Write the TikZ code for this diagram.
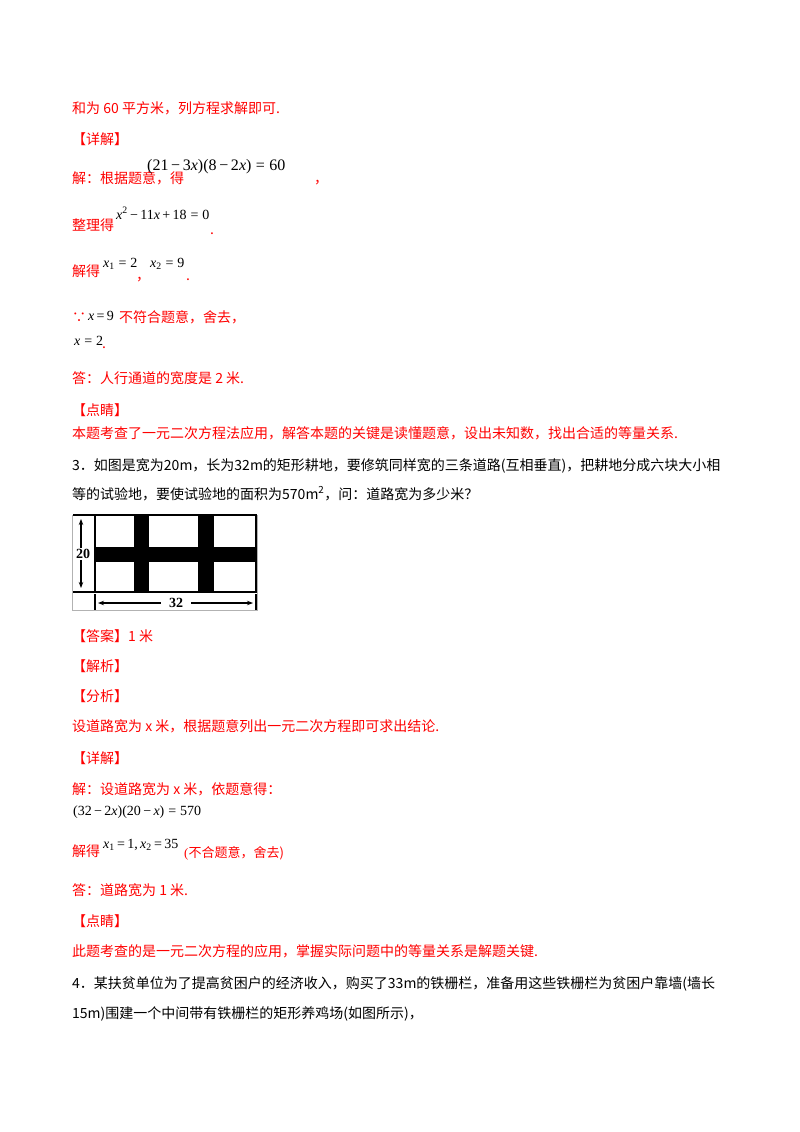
\documentclass[tikz,border=0pt]{standalone}
\usepackage{fontspec}
\setmainfont{Liberation Serif}
\newfontfamily\cjk{Noto Sans CJK SC}
\usetikzlibrary{arrows.meta}
\newcommand{\vx}{\textit{x}}
\newcommand{\mm}{\,−\,}
\newcommand{\pp}{\,+\,}
\newcommand{\ee}{\;=\;}
\newcommand{\es}{\,=\,}
\begin{document}
\begin{tikzpicture}[x=1pt,y=-1pt,
  t/.style={anchor=base west,inner sep=0pt,font=\cjk\fontsize{14}{16}\selectfont},
  rt/.style={t,text=red},
  m/.style={anchor=base west,inner sep=0pt,font=\fontsize{16}{18}\selectfont},
  ms/.style={anchor=base west,inner sep=0pt,font=\fontsize{14}{16}\selectfont}]
\useasboundingbox[fill=white] (0,0) rectangle (800,1132);
\node[rt] (l1) at (72,113) {和为 60 平方米，列方程求解即可.};
\node[rt] (l2) at (72,144) {【详解】};
\node[rt] (l3) at (72,183) {解：根据题意，得};
\node[m] (l3m) at (147,170) {(21\mm 3\vx)(8\mm 2\vx)\ee 60};
\node[rt] (l3c) at (314,183) {，};
\node[rt] (l4) at (72,230) {整理得};
\node[ms] (l4m) at (116,219) {\vx\textsuperscript{2}\mm 11\vx\pp 18\ee 0};
\node[rt] (l4c) at (210,234) {.};
\node[rt] (l5) at (72,276) {解得};
\node[ms] (l5a) at (103,267) {\vx\textsubscript{1}\ee 2};
\node[rt] (l5c) at (136,280) {，};
\node[ms] (l5b) at (150,267) {\vx\textsubscript{2}\ee 9};
\node[rt] (l5d) at (186,280) {.};
\node[rt] (l6) at (72,322) {∵};
\node[ms] (l6m) at (88,320) {\vx\es 9};
\node[rt] (l6t) at (119,322) {不符合题意，舍去，};
\node[ms] (l7) at (74,345) {\vx\ee 2};
\node[rt] (l7d) at (102,348) {.};
\node[rt] (l8) at (72,383) {答：人行通道的宽度是 2 米.};
\node[rt] (l9) at (72,415) {【点睛】};
\node[rt] (l10) at (72,438) {本题考查了一元二次方程法应用，解答本题的关键是读懂题意，设出未知数，找出合适的等量关系.};
\node[t] (q1) at (72,470) {3．如图是宽为20m，长为32m的矩形耕地，要修筑同样宽的三条道路(互相垂直)，把耕地分成六块大小相};
\node[t] (q2) at (72,499) {等的试验地，要使试验地的面积为570m\textsuperscript{2}，问：道路宽为多少米？};
% diagram
\draw[gray!60,line width=0.8] (72.5,515) rectangle (257,610);
\fill (134,515) rectangle (149,592);
\fill (198,515) rectangle (214,592);
\fill (95,547) rectangle (256,562);
\draw[line width=1.6] (95,515) rectangle (256,592);
\draw[line width=1.2] (73,515) -- (95,515) (73,592) -- (95,592);
\draw[line width=1.2] (95,594) -- (95,610) (256,594) -- (256,610);
\node[anchor=center,inner sep=1pt,font=\bfseries\fontsize{14}{16}\selectfont] (w20) at (83,554) {20};
\node[anchor=center,inner sep=2pt,font=\bfseries\fontsize{14}{16}\selectfont] (l32) at (176,603) {32};
\coordinate (at) at (81,519);
\coordinate (ab) at (81,588);
\coordinate (al) at (98,603);
\coordinate (ar) at (253,603);
\draw[-{Stealth[length=6pt]},line width=1.2] (w20.north -| at) -- (at);
\draw[-{Stealth[length=6pt]},line width=1.2] (w20.south -| ab) -- (ab);
\draw[-{Stealth[length=6pt]},line width=1.2] ([xshift=-6pt]l32.west) -- (al);
\draw[-{Stealth[length=6pt]},line width=1.2] ([xshift=6pt]l32.east) -- (ar);
\node[rt] (a1) at (72,641) {【答案】1 米};
\node[rt] (a2) at (72,671) {【解析】};
\node[rt] (a3) at (72,701) {【分析】};
\node[rt] (a4) at (72,731) {设道路宽为 x 米，根据题意列出一元二次方程即可求出结论.};
\node[rt] (a5) at (72,763) {【详解】};
\node[rt] (a6) at (72,794) {解：设道路宽为 x 米，依题意得：};
\node[ms] (a7) at (73,815) {(32\mm 2\vx)(20\mm\vx)\ee 570};
\node[rt] (a8) at (72,856) {解得};
\node[ms] (a8m) at (103,848) {\vx\textsubscript{1}\es 1,\,\vx\textsubscript{2}\es 35};
\node[anchor=base west,inner sep=0pt,text=red,font=\fontsize{13}{15}\selectfont] (a8t) at (184,857) {(\cjk 不合题意，舍去)};
\node[rt] (a9) at (72,895) {答：道路宽为 1 米.};
\node[rt] (a10) at (72,926) {【点睛】};
\node[rt] (a11) at (72,956) {此题考查的是一元二次方程的应用，掌握实际问题中的等量关系是解题关键.};
\node[t] (q3) at (72,988) {4．某扶贫单位为了提高贫困户的经济收入，购买了33m的铁栅栏，准备用这些铁栅栏为贫困户靠墙(墙长};
\node[t] (q4) at (72,1018) {15m)围建一个中间带有铁栅栏的矩形养鸡场(如图所示)，};
\end{tikzpicture}
\end{document}
